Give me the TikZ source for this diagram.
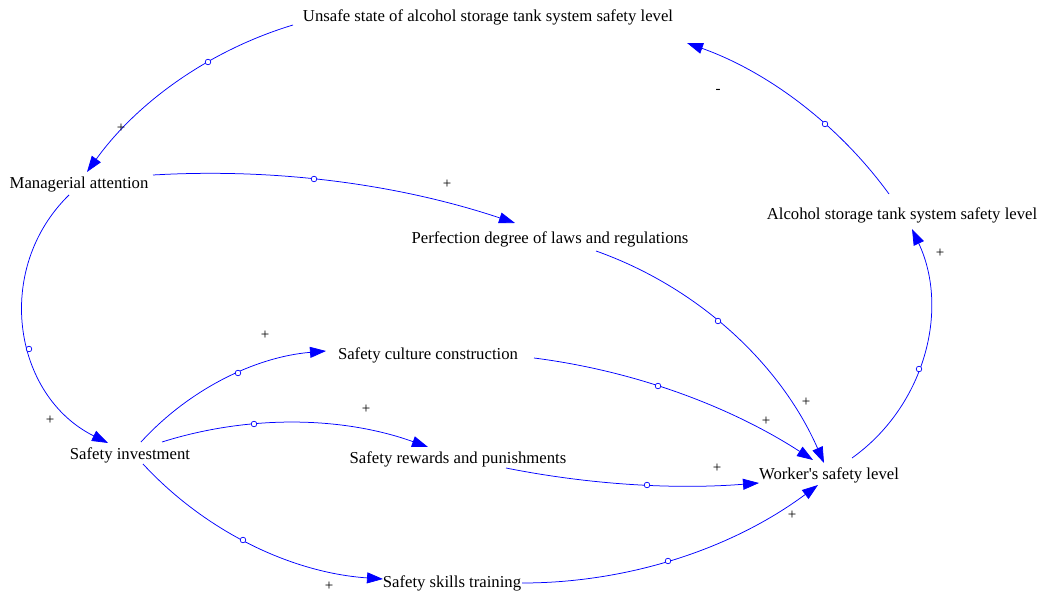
\documentclass[tikz,border=0pt]{standalone}
\usepackage{fontspec}
\setmainfont{Liberation Serif}
\usetikzlibrary{arrows.meta,calc}
\begin{document}
\begin{tikzpicture}[x=1pt,y=-1pt,
  var/.style={font=\fontsize{16.7}{18}\selectfont, inner sep=0pt, text=black, yshift=-2pt},
  link/.style={draw=blue, line width=0.75pt, -{Triangle[length=16pt,width=11pt]}},
  handle/.style={draw=blue, fill=white, line width=0.7pt},
  sign/.style={font=\fontsize{15}{16}\selectfont, inner sep=0pt, text=black}]
\useasboundingbox[fill=white] (0,0) rectangle (1043,593);

% variables
\node[var] (U)  at (488,15)  {Unsafe state of alcohol storage tank system safety level};
\node[var] (M)  at (79,183)  {Managerial attention};
\node[var] (P)  at (550,237) {Perfection degree of laws and regulations};
\node[var] (A)  at (902,213) {Alcohol storage tank system safety level};
\node[var] (SC) at (428,353) {Safety culture construction};
\node[var] (SI) at (130,453) {Safety investment};
\node[var] (SR) at (458,457) {Safety rewards and punishments};
\node[var] (W)  at (829,473) {Worker\textquotesingle s safety level};
\node[var] (ST) at (452,581) {Safety skills training};

% links
\draw[link] ($(U.center)+(-195,8)$) .. controls (210.1,50.0) and (137.6,101.7) .. ($(M.center)+(8,-13)$);
\draw[link] ($(M.center)+(74,-10)$) .. controls (275.7,167.8) and (398.4,184.1) .. ($(P.center)+(-35,-16)$);
\draw[link] ($(M.center)+(-10,10)$) .. controls (-6.8,269.1) and (13.0,395.8) .. ($(SI.center)+(-22,-12)$);
\draw[link] ($(SI.center)+(11,-13)$) .. controls (189.0,389.4) and (255.0,357.0) .. ($(SC.center)+(-102,-4)$);
\draw[link] ($(SI.center)+(32,-13)$) .. controls (248.9,414.6) and (342.2,416.3) .. ($(SR.center)+(-30,-12)$);
\draw[link] ($(SI.center)+(13,9)$) .. controls (205.4,531.5) and (291.3,572.7) .. ($(ST.center)+(-69,-4)$);
\draw[link] ($(SC.center)+(106,3)$) .. controls (633.5,370.7) and (728.8,405.6) .. ($(W.center)+(-16,-15)$);
\draw[link] ($(P.center)+(46,12)$) .. controls (698.0,287.1) and (780.6,363.9) .. ($(W.center)+(-5,-12)$);
\draw[link] ($(SR.center)+(48,9)$) .. controls (589.3,484.6) and (674.4,489.7) .. ($(W.center)+(-70,8)$);
\draw[link] ($(ST.center)+(70,0)$) .. controls (628.6,583.0) and (732.4,548.6) .. ($(W.center)+(-11,10)$);
\draw[link] ($(W.center)+(23,-17)$) .. controls (924.6,406.2) and (949.9,309.8) .. ($(A.center)+(10,14)$);
\draw[link] ($(A.center)+(-13,-21)$) .. controls (838.4,124.5) and (768.0,71.9) .. ($(U.center)+(199,26)$);

% handles
\foreach \p in {(208,62),(314,179),(29,349),(238,373),(254,424),(243,540),(658,386),(718,321),(647,485),(668,561),(919,369),(825,124)}
  \draw[handle] \p circle[radius=2.8pt];

% polarities
\node[sign] (s1)  at (121,128) {+};
\node[sign] (s2)  at (447,184) {+};
\node[sign] (s3)  at (50,420)  {+};
\node[sign] (s4)  at (265,335) {+};
\node[sign] (s5)  at (366,409) {+};
\node[sign] (s6)  at (329,586) {+};
\node[sign] (s7)  at (766,421) {+};
\node[sign] (s8)  at (806,402) {+};
\node[sign] (s9)  at (717,468) {+};
\node[sign] (s10) at (792,515) {+};
\node[sign] (s11) at (940,253) {+};
\node[sign] (s12) at (718,91)  {-};
\end{tikzpicture}
\end{document}
